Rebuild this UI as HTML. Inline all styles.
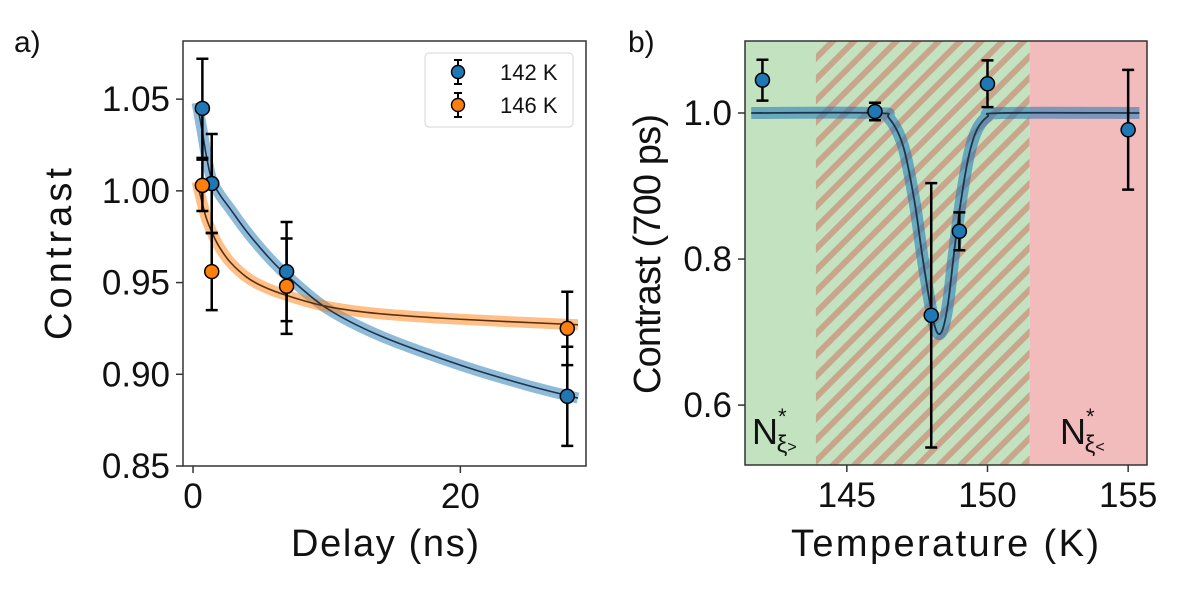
<!DOCTYPE html>
<html><head><meta charset="utf-8"><style>
body{margin:0;background:#fff;}
svg{display:block;font-family:"Liberation Sans","DejaVu Sans",sans-serif;}
</style></head><body>
<svg id="fig" width="1196" height="590" viewBox="0 0 1196 590">
<defs>
<pattern id="hatch" patternUnits="userSpaceOnUse" width="15" height="15" patternTransform="rotate(45)">
<rect x="0" y="0" width="6" height="15" fill="#c9a58c"/>
</pattern>
<clipPath id="clipA"><rect x="183" y="41" width="403" height="425"/></clipPath>
<clipPath id="clipB"><rect x="745" y="41" width="402" height="424"/></clipPath>
</defs>
<g id="panelA"></g>
<g id="panelB"></g>
</svg>
<script>
// ---------- Panel a data ----------
const delays142 = [0.7, 1.4, 7, 28];
const contrast142 = [1.045, 1.004, 0.956, 0.888];
const err142 = [0.027, 0.027, 0.027, 0.027];
const delays146 = [0.7, 1.4, 7, 28];
const contrast146 = [1.003, 0.956, 0.948, 0.925];
const err146 = [0.014, 0.021, 0.026, 0.020];
const fit142X = [0.3, 0.7, 1.0, 1.4, 2, 2.8, 4, 5.5, 7, 10, 14, 20, 25, 28.8];
const fit142Y = [1.048, 1.032, 1.019, 1.006, 0.998, 0.990, 0.978, 0.965, 0.954, 0.936, 0.921, 0.905, 0.894, 0.887];
const fit146X = [0.3, 0.7, 1.0, 1.5, 2, 2.8, 4, 5.2, 7, 10, 14, 20, 28.8];
const fit146Y = [1.005, 0.993, 0.985, 0.976, 0.969, 0.961, 0.953, 0.948, 0.943, 0.937, 0.933, 0.930, 0.927];
const ticksAY = [0.85, 0.90, 0.95, 1.00, 1.05];
const ticksAYLabels = ["0.85", "0.90", "0.95", "1.00", "1.05"];
const ticksAX = [0, 20];
const ticksAXLabels = ["0", "20"];
// ---------- Panel b data ----------
const temps = [142, 146, 148, 149, 150, 155];
const contrastT = [1.045, 1.002, 0.723, 0.838, 1.040, 0.977];
const errT = [0.028, 0.012, 0.181, 0.026, 0.032, 0.082];
const fitTX = [141.6, 146, 146.5, 147, 147.4, 147.7, 148.0, 148.2, 148.4, 148.6, 148.8, 149.0, 149.3, 149.6, 150.0, 150.5, 155.4];
const fitTY = [1.0, 1.0, 0.993, 0.955, 0.880, 0.800, 0.730, 0.700, 0.703, 0.740, 0.805, 0.865, 0.935, 0.975, 0.995, 1.0, 1.0];
const ticksBY = [0.6, 0.8, 1.0];
const ticksBYLabels = ["0.6", "0.8", "1.0"];
const ticksBX = [145, 150, 155];
const ticksBXLabels = ["145", "150", "155"];
const regionGreenEnd = 151.5;
const regionHatchStart = 143.9;

const NS = "http://www.w3.org/2000/svg";
function mk(parent, tag, attrs, text){
  const e = document.createElementNS(NS, tag);
  for (const k in attrs) e.setAttribute(k, attrs[k]);
  if (text !== undefined) e.textContent = text;
  parent.appendChild(e);
  return e;
}
function lin(d0,d1,r0,r1){return v => r0 + (v-d0)/(d1-d0)*(r1-r0);}
function smoothPath(xs, ys, sx, sy){
  const p = xs.map((x,i)=>[sx(x), sy(ys[i])]);
  let d = `M${p[0][0]},${p[0][1]}`;
  for (let i=0;i<p.length-1;i++){
    const p0=p[i-1]||p[i], p1=p[i], p2=p[i+1], p3=p[i+2]||p[i+1];
    const c1=[p1[0]+(p2[0]-p0[0])/6, p1[1]+(p2[1]-p0[1])/6];
    const c2=[p2[0]-(p3[0]-p1[0])/6, p2[1]-(p3[1]-p1[1])/6];
    d += ` C${c1[0]},${c1[1]} ${c2[0]},${c2[1]} ${p2[0]},${p2[1]}`;
  }
  return d;
}
function errBars(g, xs, ys, es, sx, sy, color, nm){
  xs.forEach((x,i)=>{
    const cx = sx(x), t = sy(ys[i]+es[i]), b = sy(ys[i]-es[i]);
    const l = mk(g,'path',{d:`M${cx},${t}V${b}M${cx-6},${t}H${cx+6}M${cx-6},${b}H${cx+6}`,stroke:'#000','stroke-width':2.5,fill:'none'});
    
    
  });
}
function points(g, xs, ys, sx, sy, color, nm){
  xs.forEach((x,i)=>{
    const c = mk(g,'circle',{cx:sx(x),cy:sy(ys[i]),r:7,fill:color,stroke:'#000','stroke-width':1.5});
    
    
  });
}

// ===== Panel a =====
(function(){
  const g = document.getElementById('panelA');
  const L=183,R=586,T=41,B=466;
  const sx = lin(-0.75, 29.4, L, R), sy = lin(0.85, 1.0817, B, T);
  const plot = mk(g,'g',{'clip-path':'url(#clipA)'});
  const b1 = mk(plot,'path',{d:smoothPath(fit142X,fit142Y,sx,sy),stroke:'#1f77b4','stroke-opacity':0.5,'stroke-width':11,fill:'none'});
   
  const b2 = mk(plot,'path',{d:smoothPath(fit146X,fit146Y,sx,sy),stroke:'#ff7f0e','stroke-opacity':0.5,'stroke-width':11,fill:'none'});
   
  const l1 = mk(plot,'path',{d:smoothPath(fit142X,fit142Y,sx,sy),stroke:'#1b3550','stroke-width':1.6,fill:'none'});
   
  const l2 = mk(plot,'path',{d:smoothPath(fit146X,fit146Y,sx,sy),stroke:'#5a3010','stroke-width':1.6,fill:'none'});
   
  errBars(plot, delays142, contrast142, err142, sx, sy, '#1f77b4', 'series-142k');
  errBars(plot, delays146, contrast146, err146, sx, sy, '#ff7f0e', 'series-146k');
  points(plot, delays142, contrast142, sx, sy, '#1f77b4', 'series-142k');
  points(plot, delays146, contrast146, sx, sy, '#ff7f0e', 'series-146k');
  const fr = mk(g,'rect',{x:L,y:T,width:R-L,height:B-T,fill:'none',stroke:'#333','stroke-width':1.5});
   
  ticksAY.forEach((v,i)=>{
    mk(g,'line',{x1:L-7,x2:L,y1:sy(v),y2:sy(v),stroke:'#333','stroke-width':1.5});
    const t = mk(g,'text',{x:L-13,y:sy(v)+12,'text-anchor':'end','font-size':35,fill:'#111'},ticksAYLabels[i]);
     
  });
  ticksAX.forEach((v,i)=>{
    mk(g,'line',{x1:sx(v),x2:sx(v),y1:B,y2:B+7,stroke:'#333','stroke-width':1.5});
    const t = mk(g,'text',{x:sx(v),y:B+42,'text-anchor':'middle','font-size':35,fill:'#111'},ticksAXLabels[i]);
     
  });
  const xt = mk(g,'text',{x:385,y:556,'text-anchor':'middle','font-size':38,fill:'#111',textLength:188},'Delay (ns)');
   
  const yt = mk(g,'text',{x:0,y:0,'text-anchor':'middle','font-size':38,fill:'#111',textLength:172,transform:'translate(71,254) rotate(-90)'},'Contrast');
   
  const pl = mk(g,'text',{x:14,y:52,'font-size':30,fill:'#111'},'a)');
   
  // legend
  const lg = mk(g,'g',{});
   
  mk(lg,'rect',{x:425,y:53,width:148,height:74,rx:4,fill:'#fff','fill-opacity':0.85,stroke:'#ddd','stroke-width':1.2});
  [['#1f77b4','142 K',72],['#ff7f0e','146 K',105]].forEach(([c,lab,y])=>{
    const e = mk(lg,'g',{});
     
    mk(e,'path',{d:`M458,${y-12}V${y+12}M454,${y-12}H462M454,${y+12}H462`,stroke:'#000','stroke-width':2});
    mk(e,'circle',{cx:458,cy:y,r:6.5,fill:c,stroke:'#000','stroke-width':1.4});
    mk(e,'text',{x:500,y:y+8,'font-size':22,fill:'#111'},lab);
  });
})();

// ===== Panel b =====
(function(){
  const g = document.getElementById('panelB');
  const L=745,R=1147,T=41,B=465;
  const sx = lin(141.38, 155.67, L, R), sy = lin(0.518, 1.0986, B, T);
  const plot = mk(g,'g',{'clip-path':'url(#clipB)'});
  const gr = mk(plot,'rect',{x:L,y:T,width:sx(regionGreenEnd)-L,height:B-T,fill:'#c3e3c0'});
   
  const ht = mk(plot,'rect',{x:sx(regionHatchStart),y:T,width:sx(regionGreenEnd)-sx(regionHatchStart),height:B-T,fill:'url(#hatch)'});
   
  const rd = mk(plot,'rect',{x:sx(regionGreenEnd),y:T,width:R-sx(regionGreenEnd),height:B-T,fill:'#f2bcbd'});
   
  const bd = mk(plot,'path',{d:smoothPath(fitTX,fitTY,sx,sy),stroke:'#1f77b4','stroke-opacity':0.55,'stroke-width':12,fill:'none'});
   
  const ln = mk(plot,'path',{d:smoothPath(fitTX,fitTY,sx,sy),stroke:'#1b3550','stroke-width':1.8,fill:'none'});
   
  errBars(plot, temps, contrastT, errT, sx, sy, '#1f77b4', 'temperature-series');
  points(plot, temps, contrastT, sx, sy, '#1f77b4', 'temperature-series');
  const n1 = mk(g,'text',{x:752,y:444,'font-size':36,fill:'#111'});
   
  n1.innerHTML = 'N<tspan font-size="22" dy="-20">*</tspan><tspan font-size="24" dx="-10" dy="28">ξ</tspan><tspan font-size="16" dy="0">&gt;</tspan>';
  const n2 = mk(g,'text',{x:1060,y:444,'font-size':36,fill:'#111'});
   
  n2.innerHTML = 'N<tspan font-size="22" dy="-20">*</tspan><tspan font-size="24" dx="-10" dy="28">ξ</tspan><tspan font-size="16" dy="0">&lt;</tspan>';
  const fr = mk(g,'rect',{x:L,y:T,width:R-L,height:B-T,fill:'none',stroke:'#333','stroke-width':1.5});
   
  ticksBY.forEach((v,i)=>{
    mk(g,'line',{x1:L-7,x2:L,y1:sy(v),y2:sy(v),stroke:'#333','stroke-width':1.5});
    const t = mk(g,'text',{x:L-13,y:sy(v)+12,'text-anchor':'end','font-size':35,fill:'#111'},ticksBYLabels[i]);
     
  });
  ticksBX.forEach((v,i)=>{
    mk(g,'line',{x1:sx(v),x2:sx(v),y1:B,y2:B+7,stroke:'#333','stroke-width':1.5});
    const t = mk(g,'text',{x:sx(v),y:B+42,'text-anchor':'middle','font-size':35,fill:'#111'},ticksBXLabels[i]);
     
  });
  const xt = mk(g,'text',{x:945,y:556,'text-anchor':'middle','font-size':38,fill:'#111',textLength:308},'Temperature (K)');
   
  const yt = mk(g,'text',{x:0,y:0,'text-anchor':'middle','font-size':38,fill:'#111',textLength:280,transform:'translate(660,254) rotate(-90)'},'Contrast (700 ps)');
   
  const pl = mk(g,'text',{x:628,y:52,'font-size':30,fill:'#111'},'b)');
   
})();
</script>
</body></html>
